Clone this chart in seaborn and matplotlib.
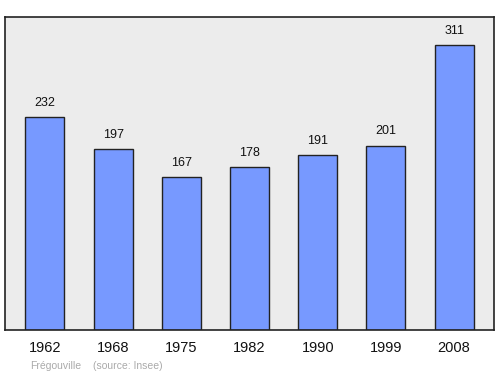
import matplotlib
matplotlib.use("Agg")
import matplotlib.pyplot as plt
import seaborn as sns
import pandas as pd

years = ["1962", "1968", "1975", "1982", "1990", "1999", "2008"]
population = [232, 197, 167, 178, 191, 201, 311]
footer_place = "Frégouville"
footer_source = "(source: Insee)"

sns.set_style("white")
plt.rcParams['font.family'] = ['Liberation Sans', 'DejaVu Sans']

df = pd.DataFrame({"year": years, "pop": population})

fig = plt.figure(figsize=(5, 3.74), dpi=100)
ax = fig.add_axes([0.01, 0.1176, 0.978, 0.837])
ax.set_facecolor("#ececec")
sns.barplot(data=df, x="year", y="pop", ax=ax, color="#7799ff", saturation=1,
            width=0.57, edgecolor="#222222", linewidth=1)
ax.set_xlim(-0.585, 6.585)
ax.set_ylim(0, 341.5)
for i, v in enumerate(population):
    ax.annotate(str(v), (i, v), xytext=(0, 6), textcoords="offset points",
                ha="center", va="bottom", fontsize=9, color="#111111")
ax.set_yticks([])
ax.set_xlabel("")
ax.set_ylabel("")
ax.tick_params(axis="x", length=0, labelsize=10.5, pad=8, colors="#111111")
for s in ax.spines.values():
    s.set_visible(True)
    s.set_color("#222222")
    s.set_linewidth(1.2)
fig.text(0.06, 0.014, footer_place, fontsize=7.5, color="#aaaaaa")
fig.text(0.186, 0.014, footer_source, fontsize=7.5, color="#aaaaaa")
fig.savefig("out.png", dpi=100)
